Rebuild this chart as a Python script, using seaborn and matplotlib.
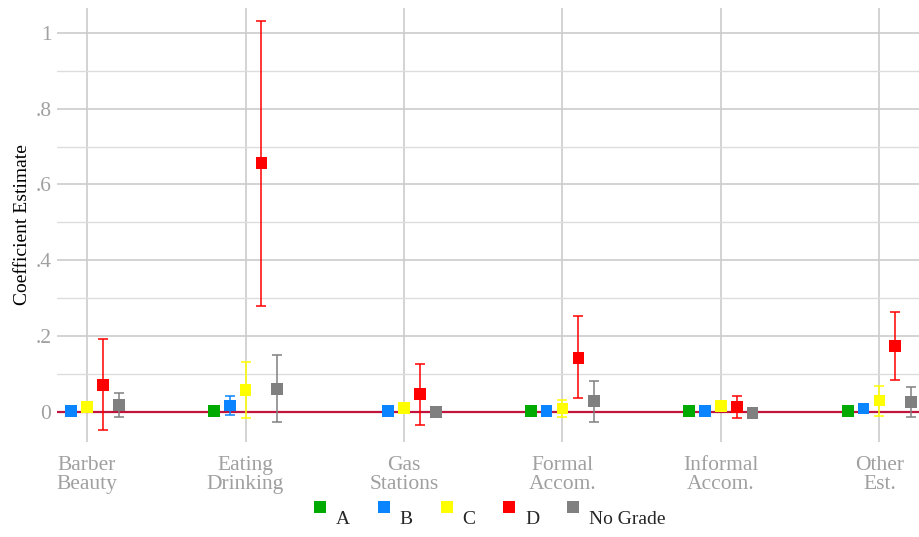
import numpy as np
import pandas as pd
import matplotlib
matplotlib.use("Agg")
import matplotlib.pyplot as plt
import seaborn as sns

categories = ["Barber\nBeauty", "Eating\nDrinking", "Gas\nStations", "Formal\nAccom.", "Informal\nAccom.", "Other\nEst."]
grades = ["A", "B", "C", "D", "No Grade"]
colors = ["#00AA00", "#0A84FF", "#FFFF00", "#FF0000", "#808080"]

nan = np.nan
# estimates per grade across categories
est_A  = [nan,   0.002, nan,    0.002, 0.001, 0.002]
est_B  = [0.001, 0.016, 0.002,  0.002, 0.002, 0.008]
est_C  = [0.012, 0.057, 0.010,  0.008, 0.015, 0.029]
est_D  = [0.070, 0.657, 0.047,  0.142, 0.013, 0.173]
est_NG = [0.017, 0.060, -0.001, 0.028, -0.003, 0.026]

lo_A  = [nan, nan, nan, nan, nan, nan]
hi_A  = [nan, nan, nan, nan, nan, nan]
lo_B  = [nan, -0.010, nan, nan, nan, nan]
hi_B  = [nan, 0.042, nan, nan, nan, nan]
lo_C  = [nan, -0.018, nan, -0.014, nan, -0.012]
hi_C  = [nan, 0.132, nan, 0.030, nan, 0.069]
lo_D  = [-0.049, 0.280, -0.035, 0.035, -0.017, 0.084]
hi_D  = [0.193, 1.032, 0.127, 0.252, 0.042, 0.263]
lo_NG = [-0.013, -0.028, nan, -0.026, nan, -0.014]
hi_NG = [0.049, 0.149, nan, 0.082, nan, 0.064]

ests = [est_A, est_B, est_C, est_D, est_NG]
los = [lo_A, lo_B, lo_C, lo_D, lo_NG]
his = [hi_A, hi_B, hi_C, hi_D, hi_NG]

offset_step = 0.1
rows = []
for gi, g in enumerate(grades):
    for ci, c in enumerate(categories):
        rows.append(dict(grade=g, cat=ci, x=ci + (gi - 2) * offset_step,
                         est=ests[gi][ci], lo=los[gi][ci], hi=his[gi][ci]))
df = pd.DataFrame(rows)

sns.set_theme(style="whitegrid")
plt.rcParams["font.family"] = ["Liberation Serif", "DejaVu Serif"]

fig = plt.figure(figsize=(9.19, 5.37), dpi=100)
ax = fig.add_axes([0.062, 0.177, 0.938, 0.808])

ax.axhline(0, color="#C0143C", lw=1.6, zorder=2)

palette = dict(zip(grades, colors))
for g in grades:
    sub = df[(df.grade == g) & df.lo.notna()]
    if len(sub):
        ax.errorbar(sub.x, sub.est, yerr=[sub.est - sub.lo, sub.hi - sub.est],
                    fmt="none", ecolor=palette[g], elinewidth=1.1, capsize=3.6,
                    capthick=1.1, zorder=3)

sns.scatterplot(data=df.dropna(subset=["est"]), x="x", y="est", hue="grade",
                hue_order=grades, palette=palette, marker="s", s=70,
                linewidth=0, ax=ax, zorder=4, legend=True)

ax.set_xlim(-0.19, 5.25)
ax.set_ylim(-0.08, 1.066)
ax.set_xticks(range(len(categories)))
ax.set_xticklabels(categories, linespacing=1.0)
ax.set_yticks([0, 0.2, 0.4, 0.6, 0.8, 1.0])
ax.set_yticklabels(["0", ".2", ".4", ".6", ".8", "1"])
ax.set_yticks([0.1, 0.3, 0.5, 0.7, 0.9], minor=True)
ax.grid(True, which="major", axis="both", color="#CCCCCC", lw=1.2)
ax.grid(True, which="minor", axis="y", color="#DDDDDD", lw=1.0)
ax.tick_params(axis="both", which="both", length=0, labelsize=15.5, labelcolor="#A0A0A0", pad=4)
ax.tick_params(axis="x", pad=10)
for s in ax.spines.values():
    s.set_visible(False)
ax.set_xlabel("")
ax.set_ylabel("Coefficient Estimate", fontsize=14, color="black", labelpad=3)

sns.move_legend(ax, "upper center", bbox_to_anchor=(0.5, -0.095), ncol=5,
                title=None, frameon=False, fontsize=14, handletextpad=0.3,
                columnspacing=1.25, markerscale=1.0, handlelength=1.0)
leg = ax.get_legend()
for t in leg.get_texts():
    t.set_position((0, -10))

fig.savefig("out.png", dpi=100)
